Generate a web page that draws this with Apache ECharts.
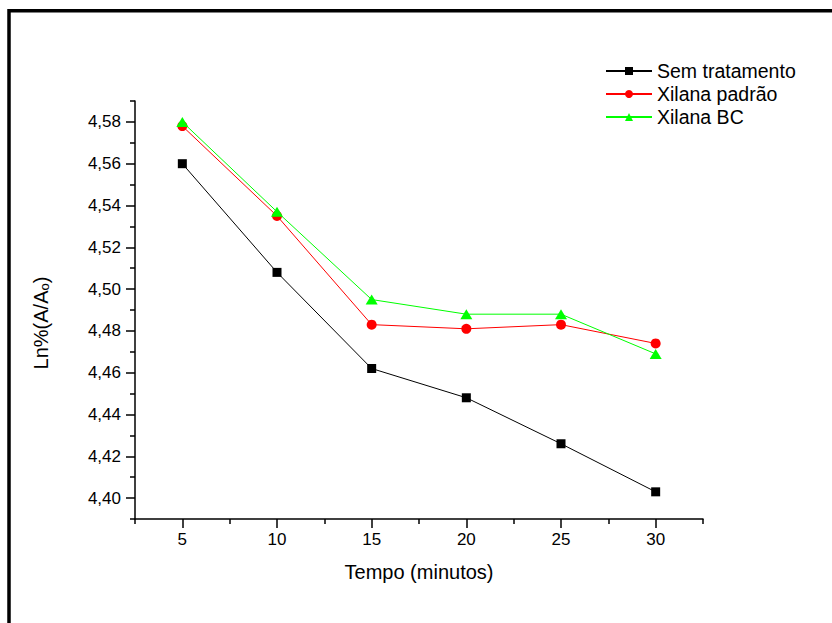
<!DOCTYPE html>
<html>
<head>
<meta charset="utf-8">
<script src="https://cdn.jsdelivr.net/npm/echarts@6/dist/echarts.min.js"></script>
<style>
html,body{margin:0;padding:0;background:#fff;}
#chart{width:832px;height:623px;}
</style>
</head>
<body>
<div id="chart"></div>
<script>
const times = [5, 10, 15, 20, 25, 30];
const semTratamento = [4.560, 4.508, 4.462, 4.448, 4.426, 4.403];
const xilanaPadrao = [4.578, 4.535, 4.483, 4.481, 4.483, 4.474];
const xilanaBC = [4.580, 4.537, 4.495, 4.488, 4.488, 4.469];
const seriesNames = ['Sem tratamento', 'Xilana padrão', 'Xilana BC'];
const xMajorTicks = [5, 10, 15, 20, 25, 30];
const xMinorTicks = [2.5, 7.5, 12.5, 17.5, 22.5, 27.5, 32.5];
const yMajorTicks = [4.40, 4.42, 4.44, 4.46, 4.48, 4.50, 4.52, 4.54, 4.56, 4.58];
const yMinorTicks = [4.39, 4.41, 4.43, 4.45, 4.47, 4.49, 4.51, 4.53, 4.55, 4.57, 4.59];

const FONT = "'Liberation Sans', Arial, sans-serif";
const pairs = vals => times.map((t, i) => [t, vals[i]]);

const chart = echarts.init(document.getElementById('chart'), null, {renderer: 'svg'});
const xCommon = {type: 'value', min: 2.5, max: 32.5, position: 'bottom', splitLine: {show: false}};
const yCommon = {type: 'value', min: 4.39, max: 4.59, position: 'left', splitLine: {show: false}};

chart.setOption({
  animation: false,
  backgroundColor: '#fff',
  graphic: [{
    type: 'rect', silent: true,
    shape: {x: 9, y: 10.75, width: 1000, height: 1000},
    style: {fill: 'none', stroke: '#000', lineWidth: 3.5}
  }],
  grid: {left: 135, top: 101, width: 568, height: 418},
  legend: {
    orient: 'vertical', left: 600, top: 56,
    itemWidth: 46, itemHeight: 10, itemGap: 3,
    textStyle: {fontFamily: FONT, fontSize: 19.5, color: '#000'},
    data: seriesNames
  },
  xAxis: [
    Object.assign({}, xCommon, {
      name: 'Tempo (minutos)', nameLocation: 'middle', nameGap: 43,
      nameTextStyle: {fontFamily: FONT, fontSize: 20, color: '#000'},
      axisLine: {onZero: false, lineStyle: {color: '#000', width: 1.5}},
      axisTick: {customValues: xMajorTicks, length: 9, lineStyle: {color: '#000', width: 1.5}},
      axisLabel: {customValues: xMajorTicks, margin: 12, fontFamily: FONT, fontSize: 17, color: '#000'}
    }),
    Object.assign({}, xCommon, {
      axisLine: {show: false, onZero: false},
      axisTick: {customValues: xMinorTicks, length: 5, lineStyle: {color: '#000', width: 1.5}},
      axisLabel: {show: false}
    })
  ],
  yAxis: [
    Object.assign({}, yCommon, {
      name: 'Ln%(A/A{sub|o})', nameLocation: 'middle', nameGap: 84, nameRotate: 90,
      nameTextStyle: {fontFamily: FONT, fontSize: 20, color: '#000', padding: [0, 26, 0, 0],
        rich: {sub: {fontFamily: FONT, fontSize: 13, color: '#000', verticalAlign: 'bottom', lineHeight: 6}}},
      axisLine: {onZero: false, lineStyle: {color: '#000', width: 1.5}},
      axisTick: {customValues: yMajorTicks, length: 9, lineStyle: {color: '#000', width: 1.5}},
      axisLabel: {customValues: yMajorTicks, margin: 14, fontFamily: FONT, fontSize: 17, color: '#000',
        formatter: v => v.toFixed(2).replace('.', ',')}
    }),
    Object.assign({}, yCommon, {
      axisLine: {show: false, onZero: false},
      axisTick: {customValues: yMinorTicks, length: 5, lineStyle: {color: '#000', width: 1.5}},
      axisLabel: {show: false}
    })
  ],
  series: [
    {name: seriesNames[0], type: 'line', data: pairs(semTratamento), symbol: 'rect', symbolSize: 9,
      itemStyle: {color: '#000'}, lineStyle: {color: '#000', width: 1}},
    {name: seriesNames[1], type: 'line', data: pairs(xilanaPadrao), symbol: 'circle', symbolSize: 10,
      itemStyle: {color: '#ff0000'}, lineStyle: {color: '#ff0000', width: 1}},
    {name: seriesNames[2], type: 'line', data: pairs(xilanaBC), symbol: 'triangle', symbolSize: [12, 10],
      itemStyle: {color: '#00ff00'}, lineStyle: {color: '#00ff00', width: 1}}
  ]
});
</script>
</body>
</html>
